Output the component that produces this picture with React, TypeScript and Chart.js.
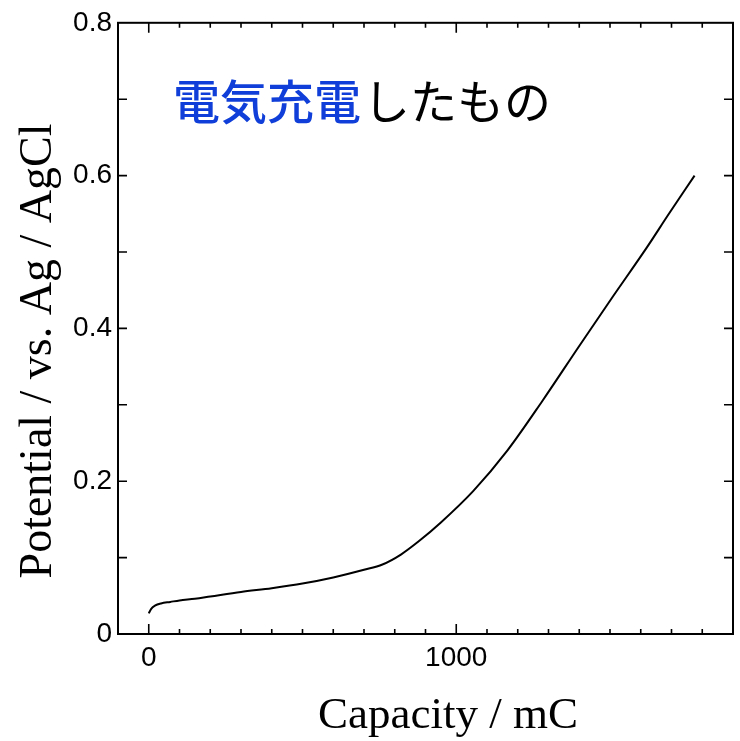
import React, { useEffect, useRef } from "react";
import { Chart, registerables } from "chart.js";

Chart.register(...registerables);

// Charge curve: capacity (mC) vs potential (V vs. Ag/AgCl)
const capacity = [0, 8, 20, 40, 70, 100, 150, 200, 300, 400, 500, 600, 700, 760, 820, 880, 950, 1055, 1166, 1280, 1400, 1510, 1620, 1690, 1775];
const potential = [0.027, 0.033, 0.037, 0.040, 0.042, 0.044, 0.046, 0.049, 0.055, 0.060, 0.066, 0.074, 0.084, 0.091, 0.104, 0.122, 0.146, 0.187, 0.240, 0.305, 0.377, 0.442, 0.506, 0.549, 0.600];

const xLabeled = [0, 1000];
const xTitle = "Capacity / mC";
const yTitle = "Potential / vs. Ag / AgCl";
const noteBlue = "電気充電";
const noteBlack = "したもの";

const SANS = "'Liberation Sans', Arial, sans-serif";
const SERIF = "'Liberation Serif', 'Times New Roman', serif";
const CJK = "'Noto Sans CJK JP', sans-serif";

// inward tick marks on all four sides plus axis titles and the annotation
const decorPlugin = {
  id: "decor",
  afterDraw(chart: any) {
    const { ctx, chartArea: a, scales } = chart;
    const xs = scales.x;
    const ys = scales.y;
    ctx.save();
    ctx.strokeStyle = "#000";
    ctx.lineWidth = 1.6;
    ctx.beginPath();
    for (const t of xs.ticks) {
      const px = xs.getPixelForValue(t.value);
      if (px <= a.left + 1 || px >= a.right - 1) continue;
      const major = Math.round(t.value) % 1000 === 0;
      const len = major ? 10 : 5;
      ctx.moveTo(px, a.bottom);
      ctx.lineTo(px, a.bottom - len);
      ctx.moveTo(px, a.top);
      ctx.lineTo(px, a.top + len);
    }
    for (const t of ys.ticks) {
      const py = ys.getPixelForValue(t.value);
      if (py <= a.top + 1 || py >= a.bottom - 1) continue;
      ctx.moveTo(a.left, py);
      ctx.lineTo(a.left + 9, py);
      ctx.moveTo(a.right, py);
      ctx.lineTo(a.right - 9, py);
    }
    ctx.stroke();

    // frame
    ctx.lineWidth = 2;
    ctx.strokeRect(a.left, a.top, a.right - a.left, a.bottom - a.top);

    // axis titles
    ctx.fillStyle = "#000";
    ctx.font = `45px ${SERIF}`;
    ctx.textAlign = "center";
    ctx.textBaseline = "alphabetic";
    ctx.fillText(xTitle, 448, 728);

    ctx.save();
    ctx.translate(51, 351);
    ctx.rotate(-Math.PI / 2);
    ctx.font = `46px ${SERIF}`;
    ctx.fillText(yTitle, 0, 0);
    ctx.restore();

    // annotation
    ctx.textAlign = "left";
    ctx.font = `500 47px ${CJK}`;
    ctx.fillStyle = "#0f3fd8";
    ctx.fillText(noteBlue, 173, 119);
    const w = ctx.measureText(noteBlue).width;
    ctx.fillStyle = "#000";
    ctx.font = `47px ${CJK}`;
    ctx.fillText(noteBlack, 173 + w + 2, 119);
    ctx.restore();
  },
};

export default function App() {
  const canvasRef = useRef<HTMLCanvasElement | null>(null);

  useEffect(() => {
    const canvas = canvasRef.current;
    if (!canvas) return;
    const chart = new Chart(canvas, {
      type: "line",
      data: {
        datasets: [
          {
            data: capacity.map((c, i) => ({ x: c, y: potential[i] })),
            borderColor: "#000",
            borderWidth: 2,
            pointRadius: 0,
            fill: false,
            cubicInterpolationMode: "monotone",
          },
        ],
      },
      options: {
        responsive: false,
        animation: false,
        layout: { padding: { top: 17, right: 7, left: 0, bottom: 0 } },
        plugins: { legend: { display: false }, tooltip: { enabled: false } },
        scales: {
          x: {
            type: "linear",
            min: -100,
            max: 1900,
            afterFit: (s: any) => {
              s.height = 107;
            },
            grid: { display: false, drawTicks: false },
            border: { display: false },
            ticks: {
              stepSize: 100,
              autoSkip: false,
              maxRotation: 0,
              padding: 7,
              color: "#000",
              font: { family: SANS, size: 28 },
              callback: (v: any) => (xLabeled.includes(Math.round(v)) ? String(Math.round(v)) : ""),
            },
          },
          y: {
            min: 0,
            max: 0.8,
            afterFit: (s: any) => {
              s.width = 118;
            },
            grid: { display: false, drawTicks: false },
            border: { display: false },
            ticks: {
              stepSize: 0.1,
              autoSkip: false,
              padding: 6,
              color: "#000",
              font: { family: SANS, size: 28 },
              callback: (v: any) => {
                const k = Math.round(Number(v) * 10);
                return k % 2 === 0 ? (k === 0 ? "0" : (k / 10).toFixed(1)) : "";
              },
            },
          },
        },
      },
      plugins: [decorPlugin],
    });
    return () => chart.destroy();
  }, []);

  return (
    <div style={{ position: "absolute", left: 0, top: 0, width: 740, height: 741, background: "#fff" }}>
      <canvas ref={canvasRef} width={740} height={741} style={{ display: "block" }} />
    </div>
  );
}
